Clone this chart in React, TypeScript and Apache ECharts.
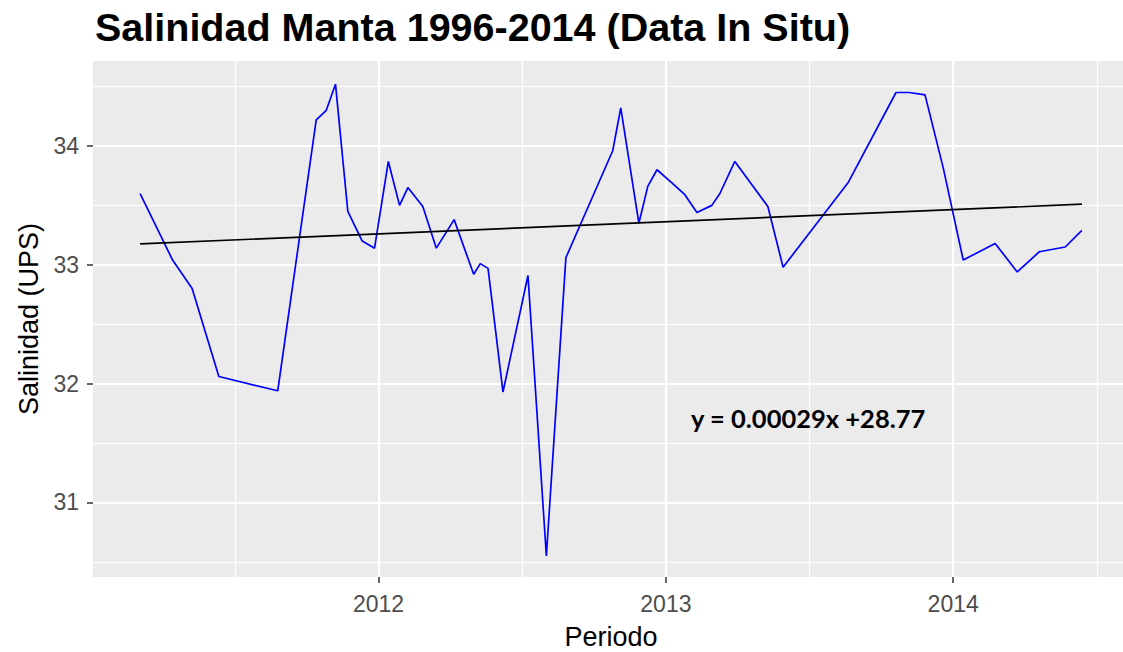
import React, { useEffect, useRef } from "react";
import * as echarts from "echarts";

// Fecha en años decimales
const periodo = [
  2011.17, 2011.283, 2011.351, 2011.444, 2011.649, 2011.783, 2011.818, 2011.85,
  2011.893, 2011.943, 2011.986, 2012.034, 2012.073, 2012.102, 2012.154, 2012.201,
  2012.263, 2012.331, 2012.354, 2012.381, 2012.433, 2012.52, 2012.584, 2012.652,
  2012.815, 2012.843, 2012.906, 2012.937, 2012.969, 2013.021, 2013.066, 2013.108,
  2013.16, 2013.188, 2013.24, 2013.355, 2013.408, 2013.634, 2013.801, 2013.847,
  2013.902, 2013.965, 2014.035, 2014.146, 2014.223, 2014.3, 2014.39, 2014.448,
];
const salinidad = [
  33.6, 33.04, 32.8, 32.06, 31.94, 34.22, 34.3, 34.52,
  33.45, 33.2, 33.14, 33.87, 33.5, 33.65, 33.49, 33.14,
  33.38, 32.92, 33.01, 32.97, 31.93, 32.91, 30.55, 33.06,
  33.96, 34.32, 33.35, 33.66, 33.8, 33.69, 33.59, 33.44,
  33.5, 33.6, 33.87, 33.49, 32.98, 33.69, 34.45, 34.45,
  34.43, 33.82, 33.04, 33.18, 32.94, 33.11, 33.15, 33.29,
];
const trendPeriodo = [2011.17, 2014.448];
const trendSalinidad = [33.176, 33.51];

const xTickLabels = [2012, 2013, 2014];
const yTickLabels = [31, 32, 33, 34];
const xMinorGrid = [2011.5, 2012.5, 2013.5, 2014.5];
const yMinorGrid = [30.5, 31.5, 32.5, 33.5, 34.5];

const titleText = "Salinidad Manta 1996-2014 (Data In Situ)";
const equationText = "y = 0.00029x +28.77";

const FONT = "'Liberation Sans', Arial, sans-serif";

export default function App() {
  const ref = useRef<HTMLDivElement>(null);

  useEffect(() => {
    if (!ref.current) return;
    const chart = echarts.init(ref.current, undefined, { renderer: "svg" });

    const gridLines = [
      ...xMinorGrid.map((v) => ({ xAxis: v, lineStyle: { width: 1.2 } })),
      ...yMinorGrid.map((v) => ({ yAxis: v, lineStyle: { width: 1.2 } })),
      ...xTickLabels.map((v) => ({ xAxis: v, lineStyle: { width: 2.2 } })),
      ...yTickLabels.map((v) => ({ yAxis: v, lineStyle: { width: 2.2 } })),
    ];

    const tickStyle = { show: true, length: 6, lineStyle: { color: "#333333", width: 1.5 } };

    chart.setOption({
      animation: false,
      backgroundColor: "#ffffff",
      title: {
        text: titleText,
        left: 95,
        top: 7,
        padding: 0,
        textStyle: { fontFamily: FONT, fontSize: 39.5, fontWeight: "bold", color: "#000000" },
      },
      grid: {
        left: 93,
        top: 61,
        width: 1036,
        height: 516,
        show: true,
        backgroundColor: "#EBEBEB",
        borderWidth: 0,
        containLabel: false,
        outerBoundsMode: "none",
      },
      xAxis: {
        type: "value",
        min: 2011.006,
        max: 2014.612,
        splitLine: { show: false },
        axisLine: { show: false },
        axisTick: { ...tickStyle, customValues: xTickLabels },
        axisLabel: {
          customValues: xTickLabels,
          formatter: (v: number) => String(Math.round(v)),
          fontFamily: FONT,
          fontSize: 23,
          color: "#4D4D4D",
          margin: 15,
        },
        name: "Periodo",
        nameLocation: "middle",
        nameGap: 46,
        nameTextStyle: { fontFamily: FONT, fontSize: 27, color: "#000000" },
      },
      yAxis: {
        type: "value",
        min: 30.373,
        max: 34.715,
        splitLine: { show: false },
        axisLine: { show: false },
        axisTick: { ...tickStyle, customValues: yTickLabels },
        axisLabel: {
          customValues: yTickLabels,
          formatter: (v: number) => String(Math.round(v)),
          fontFamily: FONT,
          fontSize: 23,
          color: "#4D4D4D",
          margin: 14,
        },
        name: "Salinidad (UPS)",
        nameLocation: "middle",
        nameGap: 47,
        nameRotate: 90,
        nameTextStyle: { fontFamily: FONT, fontSize: 27, color: "#000000" },
      },
      graphic: [
        {
          type: "text",
          x: 691,
          y: 418,
          silent: true,
          style: {
            text: equationText,
            font: "bold 25.5px Lato, 'Open Sans', sans-serif",
            fill: "#000000",
            align: "left",
            verticalAlign: "middle",
          },
          z: 20,
        },
      ],
      series: [
        {
          type: "line",
          data: [],
          z: 1,
          silent: true,
          markLine: {
            silent: true,
            z: 1,
            symbol: ["none", "none"],
            label: { show: false },
            lineStyle: { color: "#ffffff", type: "solid" },
            emphasis: { disabled: true },
            data: gridLines,
          },
        },
        {
          type: "line",
          name: "Salinidad",
          data: periodo.map((x, i) => [x, salinidad[i]]),
          showSymbol: false,
          lineStyle: { color: "#0000FF", width: 1.7 },
          itemStyle: { color: "#0000FF" },
          z: 10,
        },
        {
          type: "line",
          name: "Tendencia",
          data: trendPeriodo.map((x, i) => [x, trendSalinidad[i]]),
          showSymbol: false,
          lineStyle: { color: "#000000", width: 1.7 },
          itemStyle: { color: "#000000" },
          z: 11,
        },
      ],
    });

    return () => chart.dispose();
  }, []);

  return (
    <div
      ref={ref}
      style={{ position: "fixed", left: 0, top: 0, width: 1123, height: 652, background: "#fff" }}
    />
  );
}
